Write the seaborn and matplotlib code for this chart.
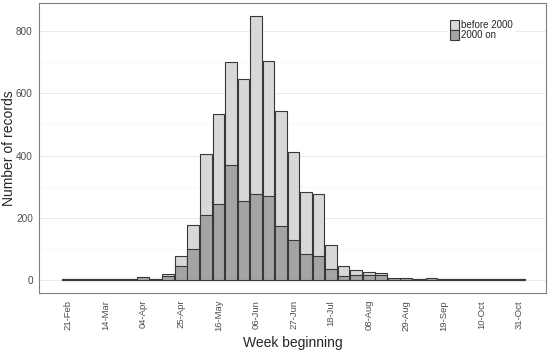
import pandas as pd
import seaborn as sns
import matplotlib.pyplot as plt
from matplotlib.patches import Patch

weeks = ["21-Feb", "28-Feb", "07-Mar", "14-Mar", "21-Mar", "28-Mar", "04-Apr",
         "11-Apr", "18-Apr", "25-Apr", "02-May", "09-May", "16-May", "23-May",
         "30-May", "06-Jun", "13-Jun", "20-Jun", "27-Jun", "04-Jul", "11-Jul",
         "18-Jul", "25-Jul", "01-Aug", "08-Aug", "15-Aug", "22-Aug", "29-Aug",
         "05-Sep", "12-Sep", "19-Sep", "26-Sep", "03-Oct", "10-Oct", "17-Oct",
         "24-Oct", "31-Oct"]
before_2000 = [1, 1, 1, 1, 1, 1, 5, 2, 17, 77, 175, 405, 532, 702, 646, 848, 704,
               544, 410, 284, 275, 111, 44, 30, 24, 22, 3, 3, 3, 3, 2, 1, 1, 1, 1, 1, 1]
from_2000 = [1, 1, 1, 1, 1, 1, 8, 4, 11, 43, 100, 208, 245, 368, 252, 276, 271,
             173, 129, 84, 75, 34, 11, 14, 14, 15, 5, 5, 4, 5, 4, 2, 1, 1, 1, 1, 1]

df = pd.DataFrame({"week": weeks, "before": before_2000, "after": from_2000})

sns.set_style("white")
plt.rcParams['font.family'] = ['Liberation Sans', 'DejaVu Sans']

fig = plt.figure(figsize=(5.51, 3.5), dpi=100)
ax = fig.add_axes([0.071, 0.163, 0.920, 0.828])

light = "#d8d8d8"
dark = "#a4a4a4"
edge = "#383838"

sns.barplot(data=df, x="week", y="before", color=light, saturation=1, width=0.93,
            edgecolor=edge, linewidth=0.8, ax=ax, zorder=2)
sns.barplot(data=df, x="week", y="after", color=dark, saturation=1, width=0.93,
            edgecolor=edge, linewidth=0.8, ax=ax, zorder=3)

# extra empty room either side of the weeks, as in the original
ax.set_xlim(-2.3, 38.15)
ax.set_ylim(-42.4, 890.4)

ax.set_yticks([0, 200, 400, 600, 800])
ax.set_yticks([100, 300, 500, 700], minor=True)
ax.grid(axis="y", which="major", color="#e8e8e8", linewidth=0.6, zorder=0)
ax.grid(axis="y", which="minor", color="#f2f2f2", linewidth=0.4, zorder=0)
ax.set_axisbelow(True)

ax.set_xticks(range(len(weeks)))
ax.set_xticklabels([w if i % 3 == 0 else "" for i, w in enumerate(weeks)],
                   rotation=90, fontsize=6.8, color="#4d4d4d")
ax.tick_params(axis="x", length=3, width=0.5, color="#555555", pad=2)
ax.tick_params(axis="y", which="major", length=3, width=0.5, color="#555555",
               labelsize=7.2, labelcolor="#4d4d4d", pad=1.5)
ax.tick_params(axis="y", which="minor", length=0)

for s in ax.spines.values():
    s.set_color("#808080")
    s.set_linewidth(0.8)
    s.set_visible(True)

ax.set_xlabel("Week beginning", fontsize=10, labelpad=3)
ax.set_ylabel("Number of records", fontsize=10)
ax.yaxis.set_label_coords(-0.045, 0.5)

handles = [Patch(facecolor=light, edgecolor=edge, linewidth=0.8, label="before 2000"),
           Patch(facecolor=dark, edgecolor=edge, linewidth=0.8, label="2000 on")]
leg = ax.legend(handles=handles, loc="upper left", bbox_to_anchor=(0.795, 0.97),
                fontsize=7, frameon=True, handlelength=0.9, handleheight=1.25,
                handletextpad=0.2, labelspacing=0.0, borderpad=0.3)
leg.get_frame().set_edgecolor("none")
leg.get_frame().set_facecolor("white")
leg.get_frame().set_alpha(1)

fig.savefig("out.png", dpi=100)
